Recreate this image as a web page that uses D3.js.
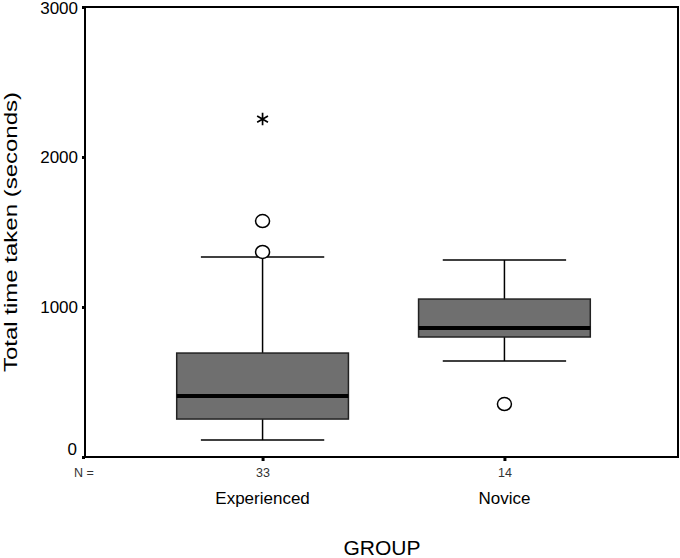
<!DOCTYPE html>
<html><head><meta charset="utf-8">
<script src="https://cdn.jsdelivr.net/npm/d3@7"></script>
<style>body{margin:0;background:#fff}svg{display:block}text{font-family:Arial,"Liberation Sans",sans-serif}</style>
</head><body>
<svg id="c" width="680" height="558"></svg>
<script>
const groups = ["Experienced", "Novice"];
const counts = [33, 14];
const q1 = [253, 800];
const medians = [407, 860];
const q3 = [693, 1053];
const whiskerLow = [113, 640];
const whiskerHigh = [1333, 1313];
const outliers = [[1367, 1573], [353]];
const extremes = [[2253], []];
const yTicks = [0, 1000, 2000, 3000];

(function () {
const svg = d3.select("#c");
const pL = 85, pR = 678, pT = 7, pB = 457;
const y = d3.scaleLinear().domain([0, 3000]).range([pB, pT]);
const x = d3.scalePoint().domain(groups).range([86, 681]).padding(0.73);
const step = x.step();
const boxW = step * 0.71, capW = step * 0.51;

// frame
svg.append("rect").attr("x", pL).attr("y", pT).attr("width", pR - pL).attr("height", pB - pT)
  .attr("fill", "none").attr("stroke", "#000").attr("stroke-width", 2);

// y axis
const yAxis = d3.axisLeft(y).tickValues(yTicks).tickSize(3).tickPadding(4).tickFormat(d3.format("d"));
const ya = svg.append("g").attr("transform", `translate(${pL},0)`).call(yAxis);
ya.select(".domain").remove();
ya.selectAll("line").attr("stroke", "#000").attr("stroke-width", 3);
ya.selectAll("text").attr("font-size", 17).attr("fill", "#000");
ya.selectAll(".tick").filter(d => d === 0).select("text").attr("dy", "-0.15em").attr("x", -8);
ya.selectAll(".tick").filter(d => d === 3000).select("text").attr("dy", "0.38em");

// x axis ticks
const xAxis = d3.axisBottom(x).tickSize(4).tickPadding(7).tickFormat((d, i) => counts[i]);
const xa = svg.append("g").attr("transform", `translate(0,${pB})`).call(xAxis);
xa.select(".domain").remove();
xa.selectAll("line").attr("stroke", "#000").attr("stroke-width", 3);
xa.selectAll("text").attr("font-size", 12.5).attr("fill", "#333");

svg.append("text").attr("x", 84).attr("y", 477).attr("text-anchor", "middle").attr("font-size", 12.5).attr("fill", "#333").text("N =");

// group labels
svg.selectAll(".glab").data(groups).join("text").attr("class", "glab")
  .attr("x", d => x(d)).attr("y", 504).attr("text-anchor", "middle").attr("font-size", 17).attr("fill", "#000")
  .text(d => d);

svg.append("text").attr("x", 382).attr("y", 555).attr("text-anchor", "middle").attr("font-size", 21).attr("fill", "#000").text("GROUP");
svg.append("text").attr("transform", `translate(17,232) scale(0.8,1) rotate(-90)`).attr("text-anchor", "middle").attr("font-size", 24).attr("fill", "#000").text("Total time taken (seconds)");

// boxes
groups.forEach((g, i) => {
  const cx = x(g);
  const gg = svg.append("g");
  gg.append("line").attr("x1", cx).attr("x2", cx).attr("y1", y(whiskerHigh[i])).attr("y2", y(q3[i])).attr("stroke", "#000").attr("stroke-width", 1.5);
  gg.append("line").attr("x1", cx).attr("x2", cx).attr("y1", y(q1[i])).attr("y2", y(whiskerLow[i])).attr("stroke", "#000").attr("stroke-width", 1.5);
  [whiskerHigh[i], whiskerLow[i]].forEach(v => {
    gg.append("line").attr("x1", cx - capW / 2).attr("x2", cx + capW / 2).attr("y1", y(v)).attr("y2", y(v)).attr("stroke", "#000").attr("stroke-width", 1.5);
  });
  gg.append("rect").attr("x", cx - boxW / 2).attr("width", boxW).attr("y", y(q3[i])).attr("height", y(q1[i]) - y(q3[i]))
    .attr("fill", "#6f6f6f").attr("stroke", "#222").attr("stroke-width", 1.5);
  gg.append("line").attr("x1", cx - boxW / 2).attr("x2", cx + boxW / 2).attr("y1", y(medians[i])).attr("y2", y(medians[i])).attr("stroke", "#000").attr("stroke-width", 4);
  outliers[i].forEach(v => {
    gg.append("ellipse").attr("cx", cx).attr("cy", y(v)).attr("rx", 7).attr("ry", 6.5).attr("fill", "#fff").attr("stroke", "#000").attr("stroke-width", 1.5);
  });
  extremes[i].forEach(v => {
    gg.append("path").attr("transform", `translate(${cx},${y(v)})`)
      .attr("d", d3.symbol(d3.symbolAsterisk, 110)())
      .attr("fill", "none").attr("stroke", "#000").attr("stroke-width", 1.7);
  });
});
})();
</script>
</body></html>
